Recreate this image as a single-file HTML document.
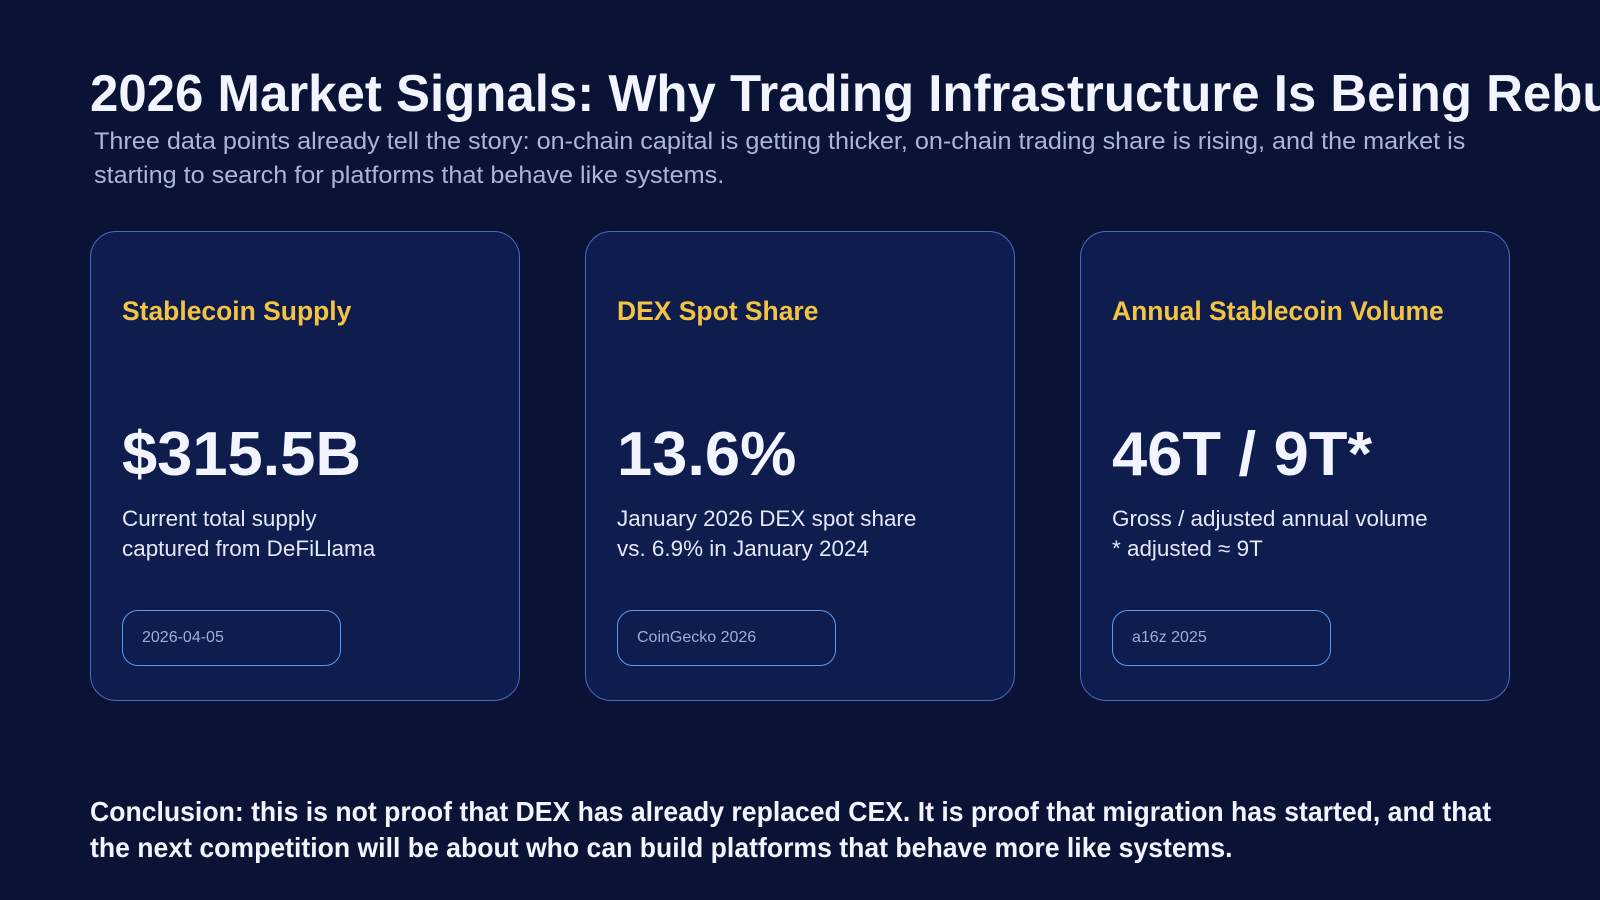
<!DOCTYPE html>
<html><head><meta charset="utf-8"><style>
html,body{margin:0;padding:0}
body{width:1600px;height:900px;background:#0a1336;position:relative;overflow:hidden;font-family:"Liberation Sans",sans-serif;}
.t{position:absolute;white-space:nowrap;transform-origin:0 0}
.card{position:absolute;top:231px;width:428px;height:468px;border:1.5px solid #4a69bd;border-radius:26px;background:#0f1d4e}
.lab{position:absolute;left:31px;top:64px;color:#f3c443;font-weight:bold;font-size:27px;white-space:nowrap;transform-origin:0 0;transform:scaleX(0.98)}
.big{position:absolute;left:31px;top:187px;color:#f2f4ff;font-weight:bold;font-size:62px;white-space:nowrap;transform-origin:0 0;transform:scaleX(1.02)}
.desc{position:absolute;left:31px;top:272px;color:#e4e8f8;font-size:22px;line-height:30px;white-space:nowrap;transform-origin:0 0;transform:scaleX(1.02)}
.pill{position:absolute;left:31px;top:378px;width:219px;height:56px;border:1px solid #5a9bf0;border-radius:16px;box-sizing:border-box}
.pill span{position:absolute;left:19px;top:18px;font-size:16px;color:#9eaed6;white-space:nowrap}
</style></head><body>
<div class="t" style="left:90px;top:64px;font-size:52px;font-weight:bold;color:#f2f4ff;transform:scaleX(0.98)">2026 Market Signals: Why Trading Infrastructure Is Being Rebuilt</div>
<div class="t" style="left:94px;top:125px;font-size:24px;line-height:34px;color:#a9b5da;transform:scaleX(1.05)">Three data points already tell the story: on-chain capital is getting thicker, on-chain trading share is rising, and the market is<br>starting to search for platforms that behave like systems.</div>

<div class="card" style="left:90px">
<div class="lab">Stablecoin Supply</div>
<div class="big">$315.5B</div>
<div class="desc">Current total supply<br>captured from DeFiLlama</div>
<div class="pill"><span>2026-04-05</span></div>
</div>
<div class="card" style="left:585px">
<div class="lab">DEX Spot Share</div>
<div class="big">13.6%</div>
<div class="desc">January 2026 DEX spot share<br>vs. 6.9% in January 2024</div>
<div class="pill"><span>CoinGecko 2026</span></div>
</div>
<div class="card" style="left:1080px">
<div class="lab">Annual Stablecoin Volume</div>
<div class="big">46T / 9T*</div>
<div class="desc">Gross / adjusted annual volume<br>* adjusted ≈ 9T</div>
<div class="pill"><span>a16z 2025</span></div>
</div>

<div class="t" style="left:90px;top:794px;font-size:28px;line-height:36px;font-weight:bold;color:#f2f4ff;transform:scaleX(0.95)">Conclusion: this is not proof that DEX has already replaced CEX. It is proof that migration has started, and that<br>the next competition will be about who can build platforms that behave more like systems.</div>
</body></html>
